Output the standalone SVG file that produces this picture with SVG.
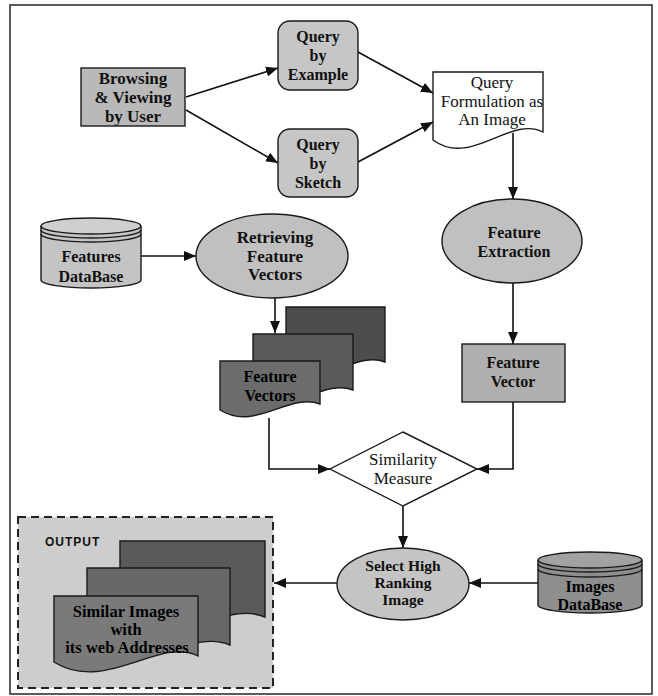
<svg xmlns="http://www.w3.org/2000/svg" width="658" height="696" viewBox="0 0 658 696">
<style>
.b{font-family:"Liberation Serif","Times New Roman",serif;font-weight:bold;font-size:16px;fill:#111;text-anchor:middle}
.r{font-family:"Liberation Serif","Times New Roman",serif;font-size:17px;fill:#111;text-anchor:middle}
.sh{stroke:#1a1a1a;stroke-width:1.4}
.ln{fill:none;stroke:#111;stroke-width:1.6}
</style>
<defs>
<marker id="ah" viewBox="0 0 12 10" refX="12" refY="5" markerWidth="12" markerHeight="10" markerUnits="userSpaceOnUse" orient="auto">
<path d="M0,0 L12,5 L0,10 Z" fill="#111"/>
</marker>
</defs>
<rect x="10" y="5" width="642" height="689" fill="#fff" stroke="#333" stroke-width="1.6"/>

<g id="browsing">
<rect x="81" y="68" width="104" height="58" fill="#b9b9b9" class="sh"/>
<text class="b" x="133" y="84" style="font-size:17px">Browsing</text>
<text class="b" x="133" y="103" style="font-size:17px">&amp; Viewing</text>
<text class="b" x="133" y="122" style="font-size:17px">by User</text>
</g>
<g id="qbe">
<rect x="278" y="21" width="80" height="69" rx="12" fill="#c6c6c6" class="sh"/>
<text class="b" x="318" y="42">Query</text>
<text class="b" x="318" y="61">by</text>
<text class="b" x="318" y="80">Example</text>
</g>
<g id="qbs">
<rect x="278" y="129" width="80" height="68" rx="12" fill="#c6c6c6" class="sh"/>
<text class="b" x="318" y="150">Query</text>
<text class="b" x="318" y="169">by</text>
<text class="b" x="318" y="188">Sketch</text>
</g>
<g id="qform">
<path d="M433,72 H543 V132 C510,115 471,168 433,140 Z" fill="#fff" class="sh"/>
<text class="r" x="492" y="88">Query</text>
<text class="r" x="492" y="107">Formulation as</text>
<text class="r" x="492" y="125">An Image</text>
</g>
<g id="featdb">
<path d="M41,226 V280 A50,8 0 0 0 141,280 V226" fill="#c4c4c4" class="sh"/>
<ellipse cx="91" cy="226" rx="50" ry="8" fill="#cfcfcf" class="sh"/>
<path d="M41,230 A50,8 0 0 0 141,230 M41,234 A50,8 0 0 0 141,234" fill="none" class="sh"/>
<text class="b" x="91" y="262">Features</text>
<text class="b" x="91" y="282">DataBase</text>
</g>
<g id="retrieve">
<ellipse cx="272" cy="256" rx="76" ry="42" fill="#c0c0c0" class="sh"/>
<text class="b" x="275" y="243" style="font-size:17px">Retrieving</text>
<text class="b" x="275" y="262" style="font-size:17px">Feature</text>
<text class="b" x="275" y="280" style="font-size:17px">Vectors</text>
</g>
<g id="fextract">
<ellipse cx="512" cy="241" rx="70" ry="42" fill="#c0c0c0" class="sh"/>
<text class="b" x="514" y="238">Feature</text>
<text class="b" x="514" y="257">Extraction</text>
</g>
<g id="fvector">
<rect x="462" y="344" width="103" height="58" fill="#b0b0b0" class="sh"/>
<text class="b" x="513" y="368">Feature</text>
<text class="b" x="513" y="387">Vector</text>
</g>
<g id="fvectors">
<path d="M286,307 H385 V362 C356,350 321,390 286,368 Z" fill="#4d4d4d" class="sh"/>
<path d="M253,334 H353 V390 C323,378 288,418 253,396 Z" fill="#5a5a5a" class="sh"/>
<path d="M220,361 H320 V404 C290,392 255,432 220,410 Z" fill="#6c6c6c" class="sh"/>
<text class="b" x="270" y="382" style="fill:#000">Feature</text>
<text class="b" x="270" y="401" style="fill:#000">Vectors</text>
</g>
<g id="similarity">
<path d="M403,432 L477,469 L403,506 L330,469 Z" fill="#fff" class="sh"/>
<text class="r" x="403" y="465">Similarity</text>
<text class="r" x="403" y="484">Measure</text>
</g>
<g id="select">
<ellipse cx="403" cy="584" rx="66" ry="36" fill="#c4c4c4" class="sh"/>
<text class="b" x="403" y="571" style="font-size:15.5px">Select High</text>
<text class="b" x="403" y="588" style="font-size:15.5px">Ranking</text>
<text class="b" x="403" y="605" style="font-size:15.5px">Image</text>
</g>
<g id="imgdb">
<path d="M538,560 V605 A52,8 0 0 0 642,605 V560" fill="#8e8e8e" class="sh"/>
<ellipse cx="590" cy="560" rx="52" ry="8" fill="#a2a2a2" class="sh"/>
<path d="M538,564 A52,8 0 0 0 642,564 M538,569 A52,8 0 0 0 642,569" fill="none" class="sh"/>
<text class="b" x="590" y="592" style="fill:#000">Images</text>
<text class="b" x="590" y="610" style="fill:#000">DataBase</text>
</g>
<g id="output">
<rect x="18" y="517" width="255" height="171" fill="#cdcdcd" stroke="#222" stroke-width="2" stroke-dasharray="8,5"/>
<text x="45" y="546" style="font-family:'Liberation Sans',Arial,sans-serif;font-weight:bold;font-size:12px;letter-spacing:1px;fill:#111">OUTPUT</text>
<path d="M120,541 H265 V617 C225,600 175,650 120,623 Z" fill="#5a5a5a" class="sh"/>
<path d="M87,568 H230 V645 C190,628 140,678 87,651 Z" fill="#686868" class="sh"/>
<path d="M54,596 H198 V656 C160,636 105,694 54,662 Z" fill="#7a7a7a" class="sh"/>
<text class="r" x="126" y="617" style="font-size:16.5px;fill:#000;font-weight:bold">Similar Images</text>
<text class="r" x="126" y="635" style="font-size:16.5px;fill:#000;font-weight:bold">with</text>
<text class="r" x="127" y="653" style="font-size:16.5px;fill:#000;font-weight:bold">its web Addresses</text>
</g>
<g id="connectors">
<path class="ln" d="M186,97 L278,68" marker-end="url(#ah)"/>
<path class="ln" d="M186,110 L278,163" marker-end="url(#ah)"/>
<path class="ln" d="M358,52 L433,93" marker-end="url(#ah)"/>
<path class="ln" d="M358,162 L433,122" marker-end="url(#ah)"/>
<path class="ln" d="M513,133 L513,199" marker-end="url(#ah)"/>
<path class="ln" d="M513,283 L513,344" marker-end="url(#ah)"/>
<path class="ln" d="M141,256 L196,256" marker-end="url(#ah)"/>
<path class="ln" d="M275,298 L275,333" marker-end="url(#ah)"/>
<path class="ln" d="M269,418 V469 H330" marker-end="url(#ah)"/>
<path class="ln" d="M513,402 V469 H477" marker-end="url(#ah)"/>
<path class="ln" d="M403,506 L403,548" marker-end="url(#ah)"/>
<path class="ln" d="M538,583 L469,583" marker-end="url(#ah)"/>
<path class="ln" d="M337,583 L274,583" marker-end="url(#ah)"/>
</g>
</svg>
